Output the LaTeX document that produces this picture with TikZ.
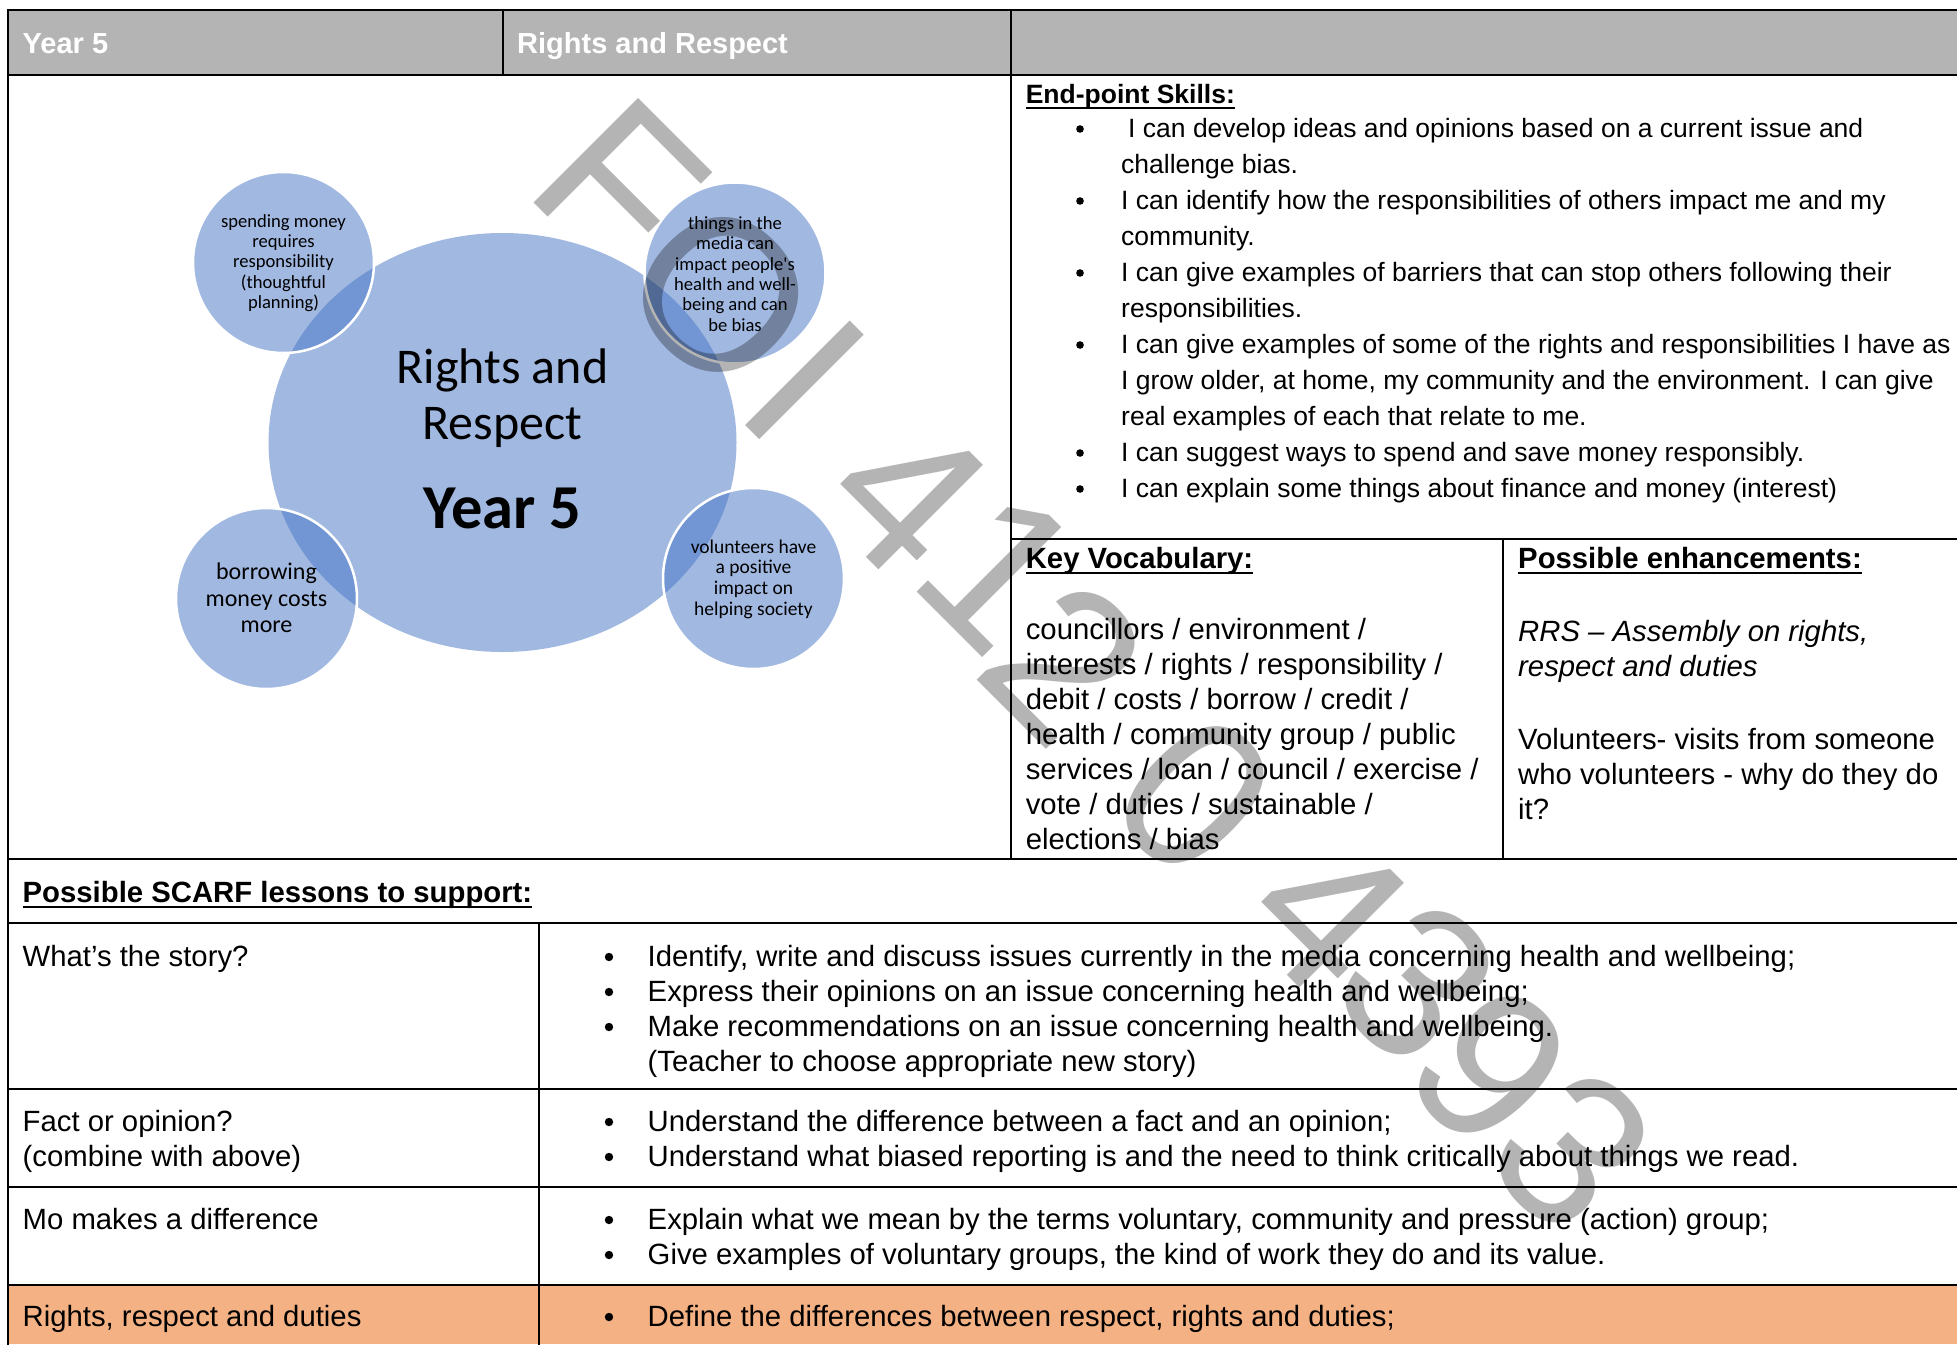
\documentclass[tikz,border=0pt]{standalone}
\usepackage{fontspec}
\setmainfont{Liberation Sans}
\newfontfamily\calib{Carlito}
\usetikzlibrary{shapes.geometric}
\newcommand\setfs[2]{\fontsize{#1}{#2}\selectfont}
\definecolor{hdrgray}{RGB}{180,180,180}
\definecolor{sablue}{RGB}{68,114,196}
\definecolor{orangefill}{RGB}{244,177,131}
\definecolor{wmgray}{RGB}{180,180,180}
\tikzset{
  rule/.style={line width=2.8pt, line cap=rect},
  ul/.style={line width=2.2pt},
  hdr/.style={anchor=base west, inner sep=0pt, text=white, font=\bfseries\setfs{29}{35}},
  hd/.style={anchor=base west, inner sep=0pt, font=\bfseries\setfs{29.3}{35}},
  eptxt/.style={anchor=base west, inner sep=0pt, font=\setfs{26.5}{36}},
  txt/.style={anchor=base west, inner sep=0pt, font=\setfs{29.3}{35}},
  itxt/.style={anchor=base west, inner sep=0pt, font=\itshape\setfs{29.3}{35}},
  bul/.style={fill=black, circle, inner sep=0pt, minimum size=7.6pt},
  bulb/.style={fill=black, circle, inner sep=0pt, minimum size=8.4pt},
  blob/.style={circle, minimum size=181pt, inner sep=0pt, fill=sablue, fill opacity=0.5, draw=white, draw opacity=1, line width=2.5pt},
  ctext/.style={align=center, inner sep=0pt, text=black},
  wm/.style={text=wmgray, inner sep=0pt, rotate=-45, font=\setfs{215}{215}},
}
\begin{document}
\begin{tikzpicture}[x=1pt,y=-1pt]
\useasboundingbox (0,0) rectangle (1957,1344);
% ---------- fills
\fill[hdrgray] (8,10) rectangle (1957,75);
\fill[orangefill] (8,1285) rectangle (1957,1344);
% ---------- table rules
\draw[rule] (8,10) -- (1957,10);
\draw[rule] (8,75) -- (1957,75);
\draw[rule] (8,859) -- (1957,859);
\draw[rule] (8,923) -- (1957,923);
\draw[rule] (8,1089) -- (1957,1089);
\draw[rule] (8,1187) -- (1957,1187);
\draw[rule] (8,1285) -- (1957,1285);
\draw[rule] (1011,539) -- (1957,539);
\draw[rule] (8,10) -- (8,1344);
\draw[rule] (503,10) -- (503,75);
\draw[rule] (1011,10) -- (1011,859);
\draw[rule] (1503,539) -- (1503,859);
\draw[rule] (539,923) -- (539,1344);
% ---------- header
\node[hdr] (hyear) at (22.5,53) {Year 5};
\node[hdr] (htopic) at (517,53) {Rights and Respect};
% ---------- circles diagram
\node[ellipse, minimum width=468pt, minimum height=419pt, inner sep=0pt, fill=sablue, fill opacity=0.5] (big) at (502.5,442.5) {};
\node[blob] (c1) at (283.5,262.5) {};
\node[blob] (c2) at (735,273) {};
\node[blob] (c3) at (266.5,598.5) {};
\node[blob] (c4) at (753.5,578.5) {};
\node[anchor=base, inner sep=0pt, font=\calib\setfs{50}{56}] (bt1) at (502.5,383) {Rights and};
\node[anchor=base, inner sep=0pt, font=\calib\setfs{50}{56}] (bt2) at (502.5,439) {Respect};
\node[anchor=base, inner sep=0pt, font=\calib\bfseries\setfs{62.5}{62.5}] (bt3) at (502.5,528) {Year 5};
\node[ctext, font=\calib\setfs{18.6}{20.3}] (t1) at (283.5,263) {spending money\\requires\\responsibility\\(thoughtful\\planning)};
\node[ctext, font=\calib\setfs{18.6}{20.3}] (t2) at (735,274) {things in the\\media can\\impact people's\\health and well-\\being and can\\be bias};
\node[ctext, font=\calib\setfs{24}{26.5}] (t3) at (266.5,598) {borrowing\\money costs\\more};
\node[ctext, font=\calib\setfs{19.5}{20.7}] (t4) at (753.5,579) {volunteers have\\a positive\\impact on\\helping society};
% ---------- end-point skills
\node[eptxt, font=\bfseries\setfs{26.5}{36}] (eph) at (1025.6,103) {End-point Skills:};
\draw[ul] ([yshift=-5pt]eph.base west) -- ([yshift=-5pt]eph.base east);
\node[bul] (eb1) at (1080,129) {};
\node[eptxt] (e1) at (1128,137) {I can develop ideas and opinions based on a current issue and};
\node[eptxt] (e2) at (1121,173) {challenge bias.};
\node[bul] (eb2) at (1080,201) {};
\node[eptxt] (e3) at (1121,209) {I can identify how the responsibilities of others impact me and my};
\node[eptxt] (e4) at (1121,245) {community.};
\node[bul] (eb3) at (1080,273) {};
\node[eptxt] (e5) at (1121,281) {I can give examples of barriers that can stop others following their};
\node[eptxt] (e6) at (1121,317) {responsibilities.};
\node[bul] (eb4) at (1080,345) {};
\node[eptxt] (e7) at (1121,353) {I can give examples of some of the rights and responsibilities I have as};
\node[eptxt] (e8) at (1121,389) {I grow older, at home, my community and the environment. I can give};
\node[eptxt] (e9) at (1121,425) {real examples of each that relate to me.};
\node[bul] (eb5) at (1080,453) {};
\node[eptxt] (e10) at (1121,461) {I can suggest ways to spend and save money responsibly.};
\node[bul] (eb6) at (1080,489) {};
\node[eptxt] (e11) at (1121,497) {I can explain some things about finance and money (interest)};
% ---------- key vocabulary
\node[hd] (kvh) at (1025.6,568) {Key Vocabulary:};
\draw[ul] ([yshift=-5pt]kvh.base west) -- ([yshift=-5pt]kvh.base east);
\node[txt] (v1) at (1025.6,639.3) {councillors / environment /};
\node[txt] (v2) at (1025.6,674.3) {interests / rights / responsibility /};
\node[txt] (v3) at (1025.6,709.3) {debit / costs / borrow / credit /};
\node[txt] (v4) at (1025.6,744.3) {health / community group / public};
\node[txt] (v5) at (1025.6,779.3) {services / loan / council / exercise /};
\node[txt] (v6) at (1025.6,814.3) {vote / duties / sustainable /};
\node[txt] (v7) at (1025.6,849.3) {elections / bias};
% ---------- enhancements
\node[hd] (peh) at (1518,568) {Possible enhancements:};
\draw[ul] ([yshift=-5pt]peh.base west) -- ([yshift=-5pt]peh.base east);
\node[itxt] (p1) at (1518,641) {RRS -- Assembly on rights,};
\node[itxt] (p2) at (1518,676) {respect and duties};
\node[txt] (p3) at (1518,749) {Volunteers- visits from someone};
\node[txt] (p4) at (1518,784) {who volunteers - why do they do};
\node[txt] (p5) at (1518,819) {it?};
% ---------- SCARF lessons
\node[hd] (sch) at (22.5,902) {Possible SCARF lessons to support:};
\draw[ul] ([yshift=-5pt]sch.base west) -- ([yshift=-5pt]sch.base east);
\node[txt] (l1) at (22.5,966) {What’s the story?};
\node[bulb] (lb1) at (609,957) {};
\node[txt] (r1) at (647.5,966) {Identify, write and discuss issues currently in the media concerning health and wellbeing;};
\node[bulb] (lb2) at (609,992) {};
\node[txt] (r2) at (647.5,1001) {Express their opinions on an issue concerning health and wellbeing;};
\node[bulb] (lb3) at (609,1027) {};
\node[txt] (r3) at (647.5,1036) {Make recommendations on an issue concerning health and wellbeing.};
\node[txt] (r4) at (647.5,1071) {(Teacher to choose appropriate new story)};
\node[txt] (l2) at (22.5,1131) {Fact or opinion?};
\node[txt] (l2b) at (22.5,1166) {(combine with above)};
\node[bulb] (lb4) at (609,1122) {};
\node[txt] (r5) at (647.5,1131) {Understand the difference between a fact and an opinion;};
\node[bulb] (lb5) at (609,1157) {};
\node[txt] (r6) at (647.5,1166) {Understand what biased reporting is and the need to think critically about things we read.};
\node[txt] (l3) at (22.5,1229) {Mo makes a difference};
\node[bulb] (lb6) at (609,1220) {};
\node[txt] (r7) at (647.5,1229) {Explain what we mean by the terms voluntary, community and pressure (action) group;};
\node[bulb] (lb7) at (609,1255) {};
\node[txt] (r8) at (647.5,1264) {Give examples of voluntary groups, the kind of work they do and its value.};
\node[txt] (l4) at (22.5,1326) {Rights, respect and duties};
\node[bulb] (lb8) at (609,1317) {};
\node[txt] (r9) at (647.5,1326) {Define the differences between respect, rights and duties;};
% ---------- watermark
\begin{scope}[blend mode=multiply]
\node[wm] (w1) at (620,185) {F};
\node[wm] (w2) at (721,295) {O};
\node[wm] (w3) at (805,380) {I};
\node[wm] (w4) at (908,494) {4};
\node[wm] (w5) at (1000,570) {1};
\node[wm] (w6) at (1065,662) {2};
\node[wm] (w7) at (1195,795) {0};
\node[wm] (w8) at (1329,912) {4};
\node[wm] (w9) at (1418,982) {3};
\node[wm] (w10) at (1491,1067) {9};
\node[wm] (w11) at (1573,1150) {3};
\end{scope}
\end{tikzpicture}
\end{document}
